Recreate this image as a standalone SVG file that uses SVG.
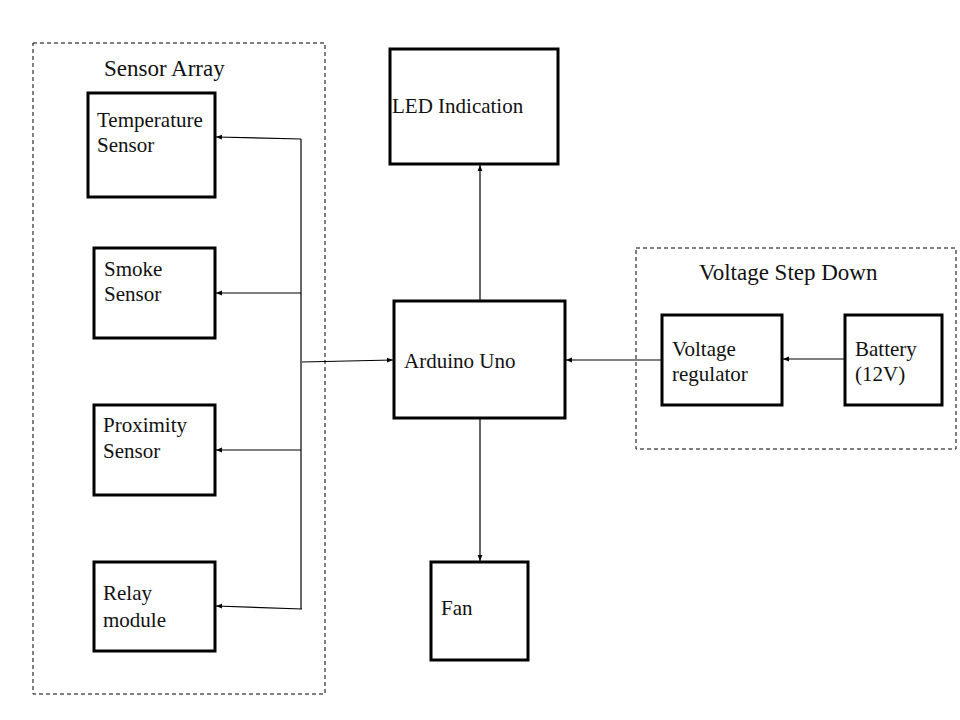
<svg xmlns="http://www.w3.org/2000/svg" width="960" height="720" viewBox="0 0 960 720">
<style>
.box{fill:#fff;stroke:#000;stroke-width:3}
.grp{fill:none;stroke:#000;stroke-width:1;stroke-dasharray:4 3}
.t{font-family:"Liberation Serif","Times New Roman",serif;font-size:21px;fill:#111}
.tt{font-family:"Liberation Serif","Times New Roman",serif;font-size:23px;fill:#111}
.c{fill:none;stroke:#000;stroke-width:1.2}
</style>
<defs>
<marker id="ah" viewBox="0 0 10 10" refX="10" refY="5" markerWidth="6" markerHeight="6" orient="auto" markerUnits="userSpaceOnUse">
<path d="M0,1 L10,5 L0,9 z" fill="#000"/>
</marker>
</defs>
<rect width="960" height="720" fill="#fff"/>
<g id="sensor-array">
<rect class="grp" x="33" y="43" width="292" height="651"/>
<text class="tt" x="104" y="76">Sensor Array</text>
</g>
<g id="voltage-step-down">
<rect class="grp" x="636" y="248" width="320" height="201"/>
<text class="tt" x="699" y="280">Voltage Step Down</text>
</g>
<g id="temperature">
<rect class="box" x="88" y="93" width="127" height="104"/>
<text class="t" x="97" y="127">Temperature</text>
<text class="t" x="97" y="152">Sensor</text>
</g>
<g id="smoke">
<rect class="box" x="94" y="248" width="121" height="90"/>
<text class="t" x="104" y="276">Smoke</text>
<text class="t" x="104" y="301">Sensor</text>
</g>
<g id="proximity">
<rect class="box" x="94" y="405" width="121" height="90"/>
<text class="t" x="103" y="432">Proximity</text>
<text class="t" x="103" y="458">Sensor</text>
</g>
<g id="relay">
<rect class="box" x="94" y="562" width="121" height="89"/>
<text class="t" x="103" y="600">Relay</text>
<text class="t" x="103" y="627">module</text>
</g>
<g id="led">
<rect class="box" x="390" y="49" width="168" height="115"/>
<text class="t" x="392" y="113">LED Indication</text>
</g>
<g id="arduino">
<rect class="box" x="394" y="301" width="171" height="117"/>
<text class="t" x="404" y="368">Arduino Uno</text>
</g>
<g id="fan">
<rect class="box" x="431" y="562" width="97" height="98"/>
<text class="t" x="441" y="615">Fan</text>
</g>
<g id="regulator">
<rect class="box" x="662" y="315" width="120" height="90"/>
<text class="t" x="672" y="356">Voltage</text>
<text class="t" x="672" y="381">regulator</text>
</g>
<g id="battery">
<rect class="box" x="845" y="315" width="97" height="90"/>
<text class="t" x="855" y="356">Battery</text>
<text class="t" x="855" y="381">(12V)</text>
</g>
<g id="connectors">
<line class="c" x1="301" y1="139" x2="301" y2="609"/>
<line class="c" x1="301" y1="139" x2="216" y2="137" marker-end="url(#ah)"/>
<line class="c" x1="301" y1="293" x2="216" y2="293" marker-end="url(#ah)"/>
<line class="c" x1="301" y1="450" x2="216" y2="450" marker-end="url(#ah)"/>
<line class="c" x1="302" y1="609" x2="216" y2="606" marker-end="url(#ah)"/>
<line class="c" x1="302" y1="362" x2="393" y2="360" marker-end="url(#ah)"/>
<line class="c" x1="480" y1="301" x2="480" y2="165" marker-end="url(#ah)"/>
<line class="c" x1="480" y1="418" x2="480" y2="561" marker-end="url(#ah)"/>
<line class="c" x1="662" y1="360" x2="566" y2="360" marker-end="url(#ah)"/>
<line class="c" x1="845" y1="359" x2="783" y2="359" marker-end="url(#ah)"/>
</g>
</svg>
